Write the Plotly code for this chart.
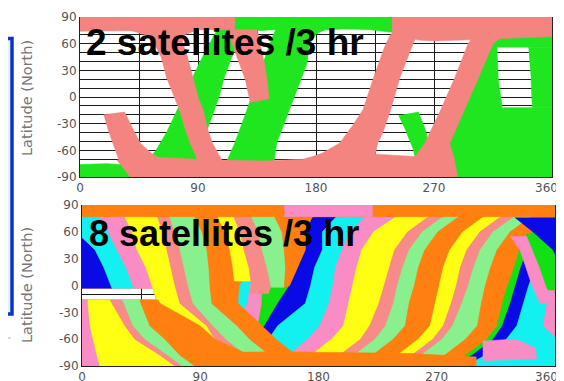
import plotly.graph_objects as go

# ------------------------------------------------------------------ ticks
LON_TICKS = [0, 90, 180, 270]
LON_LABELS = ['0', '90', '180', '270']
LON_LAST = 360
LAT_TICKS = [90, 60, 30, 0, -30, -60, -90]
LAT_LABELS = ['90', '60', '30', '0', '-30', '-60', '-90']

# ------------------------------------------------------------------ colours
PINK_TOP = '#f4847f'
GREEN_TOP = '#20e620'
C_ORANGE = '#ff7f10'
C_YELLOW = '#ffff14'
C_PINK = '#f98cc4'
C_SALMON = '#f98a8a'
C_LGREEN = '#88f08c'
C_GREEN = '#12e012'
C_BLUE = '#0a0ae6'
C_CYAN = '#12f0f0'

# ================================================================ TOP PANEL
# swath outlines (lon, lat) -- satellite "green"
green_north = [(105, 90), (250, 90), (250, 72), (236, 73), (220, 76), (200, 76.5), (182, 75),
               (150, 76), (120, 73), (105, 73)]
green_pass_1 = [(50, -74), (58, -60), (66, -40), (74, -15), (82, 10), (90, 35), (98, 58),
                (104, 74), (104, 80), (126, 80), (124, 74), (120, 60), (115, 42), (110, 22),
                (106, 0), (100, -25), (93, -52), (88, -74)]
green_pass_2 = [(112, -72), (118, -52), (126, -20), (133, 10), (140, 40), (146, 65), (150, 78),
                (190, 78), (180, 71), (175, 60), (173, 37), (166, 10), (158, -20), (150, -52),
                (148, -72)]
green_start = [(243, -21), (258, -17), (263, -35), (266, -52), (268, -70), (256, -70),
               (254, -58), (249, -40)]
green_east = [(310, 72), (360, 72), (360, 56), (318, 56), (319, 20), (322, -12), (360, -12),
              (360, -90), (270, -90), (270, -68), (272, -52), (284, -15), (295, 22), (305, 60)]
green_edge = [(342, 56), (360, 56), (360, -12), (345, -12), (344, 20)]
green_south = [(0, -76), (20, -75), (45, -77), (60, -80), (60, -90), (0, -90)]

# satellite "pink"
pink_north_west = [(0, 90), (118, 90), (118, 76), (60, 75), (0, 74)]
pink_pass_a = [(36, 76), (50, 70), (56, 62), (62, 45), (66, 22), (72, 0), (76, -15), (80, -35),
               (84, -52), (88, -65), (90, -73), (109, -73), (104, -60), (101, -52), (97, -35),
               (94, -15), (90, 0), (86, 22), (82, 45), (78, 62), (80, 70), (90, 76)]
pink_end = [(112, 76), (116, 60), (121, 40), (126, 20), (129, 0), (130, -6), (144, -2),
            (143, 15), (141, 35), (138, 55), (135, 76)]
pink_start = [(18, -20), (34, -17), (40, -35), (46, -52), (55, -64), (62, -70), (30, -72),
              (25, -52), (21, -35)]
pink_south = [(28, -71), (60, -68), (100, -71), (140, -72), (170, -70), (190, -62), (200, -55),
              (222, -64), (255, -67), (285, -67), (288, -90), (38, -90)]
pink_rise_1 = [(170, -72), (185, -63), (198, -52), (208, -32), (216, -14), (224, 22), (232, 55),
               (236, 68), (240, 76), (258, 76), (258, 72), (254, 60), (244, 22), (237, -14),
               (231, -40), (227, -52), (225, -66)]
pink_rise_2 = [(255, -68), (263, -52), (275, -15), (286, 22), (296, 60), (300, 68), (322, 68),
               (315, 60), (304, 22), (293, -15), (282, -52), (285, -68)]
pink_north_east = [(238, 90), (360, 90), (360, 68), (340, 67), (322, 66), (300, 65), (270, 63),
                   (258, 64), (245, 70), (238, 74)]

# ============================================================= BOTTOM PANEL
LAT_LEVELS = [90, 76, 60, 40, 20, 0, -20, -45, -60, -78, -90]
# ascending swath edges (lon at each LAT_LEVELS)
R_CYAN0 = [165, 155, 145, 134, 128, 120, 119, 107, 99, 84, 69]
R_PINK0 = [170, 160, 152, 142, 136, 128, 126, 116, 108, 93, 78]
R_GREEN1 = [175, 165, 160, 151, 145, 137, 137, 134, 124, 107, 90]
R_BLUE1 = [185, 175, 170, 170, 164, 158, 149, 139, 129, 113, 97]
R_CYAN1 = [219, 193, 183, 183, 177, 174, 170, 149, 142, 125, 110]
R_PINK1 = [238, 215, 204, 198, 193, 191, 188, 181, 172, 157, 142]
R_YELLOW1 = [255, 238, 222, 213, 209, 206, 203, 199, 190, 174, 158]
R_SALMON1 = [280, 263, 248, 238, 234, 230, 226, 219, 212, 196, 181]
R_LGREEN1 = [291, 274, 259, 249, 244, 240, 237, 231, 223, 207, 192]
R_ORANGE1 = [303, 286, 271, 261, 256, 253, 249, 246, 237, 221, 205]
R_YELLOW2 = [322, 305, 290, 280, 275, 272, 269, 265, 256, 240, 224]
R_SALMON2 = [335, 318, 303, 293, 288, 285, 281, 275, 267, 251, 236]
R_LGREEN2 = [345, 328, 313, 303, 298, 294, 289, 282, 274, 258, 243]
R_ORANGE2 = [358, 341, 326, 316, 311, 307, 304, 301, 292, 276, 261]
R_GREEN3 = [375, 358, 343, 333, 329, 324, 320, 316, 308, 292, 277]
R_BLUE3 = [381, 364, 349, 339, 334, 330, 326, 320, 313, 297, 282]
R_CYAN3 = [391, 374, 359, 349, 345, 340, 336, 331, 323, 307, 292]
R_PINK3 = [409, 392, 377, 367, 362, 358, 354, 351, 362, 366, 370]
R_EDGE = [440, 440, 440, 440, 440, 440, 440, 440, 440, 440, 440]

# descending swath edges (lon at each LAT_LEVELS)
D_PINK_YELLOW = [28, 32.7, 38.1, 41.9, 48.7, 53.3, 57.8, 70.8, 82.2, 97.4, 112.6]
D_YELLOW_SALMON = [54, 57.8, 61.6, 64.7, 67.7, 70.8, 74.6, 95, 101.2, 116.4, 131.6]
D_SALMON_LGREEN = [64, 67, 70.8, 74.6, 77.6, 80.7, 84.5, 99.7, 109.6, 124.8, 140]
D_LGREEN_ORANGE = [83, 86, 91.3, 95.1, 96.6, 97.4, 98.9, 118, 127.8, 143.1, 158.3]
D_ORANGE_EDGE = [100, 103.5, 108.8, 112.6, 114.9, 116.4, 118.7, 137, 147.6, 162.9, 178.1]

# descending swaths that end just south of the equator (upper left)
UL_LATS = [90, 76, 60, 40, 20, 0, -3]
UL_LEFT = [-30, -30, -30, -30, -30, -30, -30]
UL_BLUE_CYAN = [-25, -16.7, -4.6, 9.9, 16.7, 22.1, 22.8]
UL_CYAN_PINK = [10, 13.7, 19.8, 26.6, 33.5, 38.8, 39.6]
UL_PINK_YELLOW = [28, 32.7, 38.1, 41.9, 48.7, 53.3, 54]

# swaths that start at -16 deg (lower left)
LL_LATS = [-16, -20, -45, -60, -78, -90]
LL_LEFT = [-30, -30, -30, -30, -30, -30]
LL_PINK_YELLOW = [4.6, 4.6, 6.1, 8.4, 11.4, 13.7]
LL_YELLOW_SALMON = [21.3, 22.8, 32.7, 40.3, 59.4, 70.8]
LL_SALMON_LGREEN = [30.4, 32, 38.8, 47.9, 65.4, 76.1]
LL_LGREEN_ORANGE = [44.1, 44.9, 51.7, 63.2, 74.6, 86]
LL_ORANGE_EDGE = [57.8, 59.4, 89.8, 101.2, 127.8, 150.7]

# descending swaths ending at the central chevron (lon, lat)
ch_yellow = [(100, 90), (103.5, 76), (108.8, 60), (112.6, 40), (114.9, 20), (116, 5),
             (129.4, 5), (127.1, 20), (123.3, 40), (120.2, 60), (115.7, 76), (112, 90)]
ch_salmon = [(112, 90), (115.7, 76), (120.2, 60), (123.3, 40), (127.1, 20), (129, 0), (128, -9),
             (142, -9), (143.8, 0), (140.8, 20), (137, 40), (133.9, 60), (129.4, 76), (126, 90)]
ch_lgreen = [(126, 90), (129.4, 76), (133.9, 60), (137, 40), (140.8, 20), (143.8, 0), (144, -2),
             (154, -2), (155, 20), (154, 40), (152.2, 60), (146.9, 76), (143, 90)]
ch_orange = [(143, 90), (146.9, 76), (152.2, 60), (154, 40), (155, 20), (154, -2), (158, 0),
             (164, 20), (170, 40), (170, 60), (175, 76), (185, 90)]

# descending swaths at the east edge
east_pink = [(326, 55), (333.3, 40), (337.9, 20), (342.5, 0), (348.5, -20), (380, -20), (380, 55)]
east_green = [(338, 58), (343.2, 40), (348.5, 20), (353.1, 0), (354.6, -5), (380, -5), (380, 58)]
east_blue = [(329.5, 76), (343.2, 60), (358.4, 40), (365.3, 20), (380, 20), (380, 76)]
east_pink_south = [(305, -62), (330, -60), (345, -70), (346, -82), (305, -84)]

# polar cap bands and the uncovered gap
polar_band = [(-5, 90), (365, 90), (365, 77), (-5, 77)]
polar_band_pink = [(154, 90), (221, 90), (221, 77), (154, 77)]
south_band = [(60, -90), (300, -90), (300, -80), (250, -76), (150, -74), (60, -76)]
coverage_base = [(-5, 95), (365, 95), (365, -95), (-5, -95), (-5, -16), (56.5, -16), (54, -3),
                 (-5, -3)]

# ================================================================ FIGURE
fig = go.Figure()
TOP = ('x', 'y')
BOT = ('x2', 'y2')


def add_poly(pts, color, ax):
    fig.add_trace(go.Scatter(
        x=[p[0] for p in pts], y=[p[1] for p in pts], fill='toself', fillcolor=color,
        mode='lines', line=dict(color=color, width=0.6), hoverinfo='skip',
        showlegend=False, xaxis=ax[0], yaxis=ax[1]))


def add_band(lats, left, right, color, ax):
    pts = list(zip(left, lats)) + list(zip(right, lats))[::-1]
    add_poly(pts, color, ax)


# ---- top panel
for pts in [green_north, green_pass_1, green_pass_2, green_start, green_east, green_edge,
            green_south]:
    add_poly(pts, GREEN_TOP, TOP)
for pts in [pink_north_west, pink_pass_a, pink_end, pink_start, pink_south, pink_rise_1,
            pink_rise_2, pink_north_east]:
    add_poly(pts, PINK_TOP, TOP)

# ---- bottom panel
add_poly(coverage_base, C_ORANGE, BOT)
rising = [
    (R_CYAN0, R_PINK0, C_CYAN), (R_PINK0, R_GREEN1, C_PINK), (R_GREEN1, R_BLUE1, C_GREEN),
    (R_BLUE1, R_CYAN1, C_BLUE), (R_CYAN1, R_PINK1, C_CYAN), (R_PINK1, R_YELLOW1, C_PINK),
    (R_YELLOW1, R_SALMON1, C_YELLOW), (R_SALMON1, R_LGREEN1, C_SALMON),
    (R_LGREEN1, R_ORANGE1, C_LGREEN), (R_ORANGE1, R_YELLOW2, C_ORANGE),
    (R_YELLOW2, R_SALMON2, C_YELLOW), (R_SALMON2, R_LGREEN2, C_SALMON),
    (R_LGREEN2, R_ORANGE2, C_LGREEN), (R_ORANGE2, R_GREEN3, C_ORANGE),
    (R_GREEN3, R_BLUE3, C_GREEN), (R_BLUE3, R_CYAN3, C_BLUE), (R_CYAN3, R_PINK3, C_CYAN),
    (R_PINK3, R_EDGE, C_PINK)]
for left, right, col in rising:
    add_band(LAT_LEVELS, left, right, col, BOT)
add_poly(east_pink_south, C_PINK, BOT)

for left, right, col in [(UL_LEFT, UL_BLUE_CYAN, C_BLUE), (UL_BLUE_CYAN, UL_CYAN_PINK, C_CYAN),
                         (UL_CYAN_PINK, UL_PINK_YELLOW, C_PINK)]:
    add_band(UL_LATS, left, right, col, BOT)

for left, right, col in [(D_PINK_YELLOW, D_YELLOW_SALMON, C_YELLOW),
                         (D_YELLOW_SALMON, D_SALMON_LGREEN, C_SALMON),
                         (D_SALMON_LGREEN, D_LGREEN_ORANGE, C_LGREEN),
                         (D_LGREEN_ORANGE, D_ORANGE_EDGE, C_ORANGE)]:
    add_band(LAT_LEVELS, left, right, col, BOT)

for pts, col in [(ch_yellow, C_YELLOW), (ch_salmon, C_SALMON), (ch_lgreen, C_LGREEN),
                 (ch_orange, C_ORANGE), (south_band, C_ORANGE)]:
    add_poly(pts, col, BOT)

for left, right, col in [(LL_LEFT, LL_PINK_YELLOW, C_PINK),
                         (LL_PINK_YELLOW, LL_YELLOW_SALMON, C_YELLOW),
                         (LL_YELLOW_SALMON, LL_SALMON_LGREEN, C_SALMON),
                         (LL_SALMON_LGREEN, LL_LGREEN_ORANGE, C_LGREEN),
                         (LL_LGREEN_ORANGE, LL_ORANGE_EDGE, C_ORANGE)]:
    add_band(LL_LATS, left, right, col, BOT)

for pts, col in [(east_pink, C_PINK), (east_green, C_GREEN), (east_blue, C_BLUE),
                 (polar_band, C_ORANGE), (polar_band_pink, C_PINK)]:
    add_poly(pts, col, BOT)

# ---- axes
GRID = '#1c1c1c'
tickfont = dict(family='DejaVu Sans', size=12, color='#555555')
xcommon = dict(range=[0, 360], tickmode='array', tickvals=LON_TICKS, ticktext=LON_LABELS,
               showgrid=True, gridcolor=GRID, gridwidth=1.2,
               minor=dict(tickmode='linear', tick0=0, dtick=45, showgrid=True, gridcolor=GRID,
                          gridwidth=1.2),
               showline=True, linecolor='#222222', linewidth=1, mirror=False, zeroline=False,
               ticks='', tickfont=tickfont, fixedrange=True, automargin=False)
ycommon = dict(range=[-90, 90], tickmode='array', tickvals=LAT_TICKS, ticktext=LAT_LABELS,
               showgrid=True, gridcolor=GRID, gridwidth=1.2,
               minor=dict(tickmode='linear', tick0=0, dtick=10, showgrid=True, gridcolor=GRID,
                          gridwidth=1.2),
               showline=True, linecolor='#222222', linewidth=1, mirror=True, zeroline=False,
               ticks='', tickfont=tickfont, fixedrange=True, automargin=False)

# the page body adds an 8 px offset, so the figure covers the window minus 8 px
W, H = 556, 373
OFF = 8


def px(x):
    return (x - OFF) / W


def py(y):
    return (H - (y - OFF)) / H


fig.update_layout(
    width=W, height=H, margin=dict(l=0, r=0, t=0, b=0, pad=0), autosize=False,
    paper_bgcolor='white', plot_bgcolor='white', showlegend=False,
    xaxis=dict(domain=[px(80), px(552)], anchor='y', **xcommon),
    yaxis=dict(domain=[py(177), py(17)], anchor='x', **ycommon),
    xaxis2=dict(domain=[px(82), px(555)], anchor='y2', **xcommon),
    yaxis2=dict(domain=[py(366), py(205)], anchor='x2', **ycommon),
)

# last longitude label sits a little inside the right edge
for yl in [188, 377]:
    fig.add_annotation(text=str(LON_LAST), xref='paper', yref='paper', x=px(546), y=py(yl),
                       xanchor='center', yanchor='middle', showarrow=False, font=tickfont)

title_font = dict(family='Liberation Sans', size=37, color='black')
ylab_font = dict(family='DejaVu Sans', size=14.5, color='#777777')
fig.add_annotation(text='<b>2 satellites /3 hr</b>', xref='paper', yref='paper',
                   x=px(84), y=py(43), xanchor='left', yanchor='middle',
                   showarrow=False, font=title_font)
fig.add_annotation(text='<b>8 satellites /3 hr</b>', xref='paper', yref='paper',
                   x=px(87), y=py(234), xanchor='left', yanchor='middle',
                   showarrow=False, font=dict(family='Liberation Sans', size=36, color='black'))
for yc in [98, 285]:
    fig.add_annotation(text='Latitude (North)', xref='paper', yref='paper', x=px(27),
                       y=py(yc), xanchor='center', yanchor='middle', textangle=-90,
                       showarrow=False, font=ylab_font)

# slide frame fragment at left edge
fig.add_shape(type='rect', xref='paper', yref='paper', x0=px(-10), x1=px(12),
              y0=py(314), y1=py(38.5), line=dict(color='#0a36c4', width=3.5),
              fillcolor='#e4f6fc', layer='below')
fig.add_shape(type='line', xref='paper', yref='paper', x0=0, x1=px(12),
              y0=py(338), y1=py(338), line=dict(color='#bbbbbb', width=1, dash='dot'))

fig.write_html('out.html')
